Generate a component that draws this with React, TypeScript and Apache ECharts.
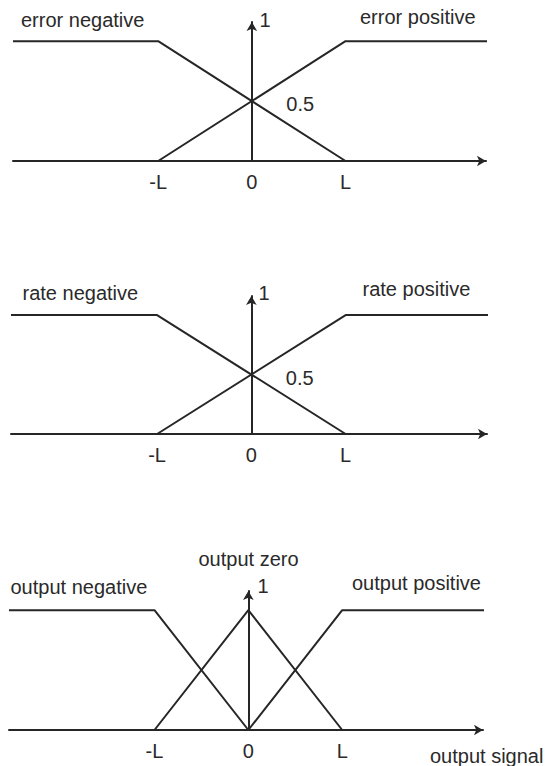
import React, { useEffect, useRef } from "react";
import * as echarts from "echarts";

// ---- data ----
const xTickValues = [-1, 0, 1];
const xTickLabels = ["-L", "0", "L"];

const errorNegative = [[-2.55, 1], [-1, 1], [1, 0]];
const errorPositive = [[-1, 0], [1, 1], [2.57, 1]];
const rateNegative = [[-2.55, 1], [-1, 1], [1, 0]];
const ratePositive = [[-1, 0], [1, 1], [2.57, 1]];
const outputNegative = [[-2.55, 1], [-1, 1], [0, 0]];
const outputZero = [[-1, 0], [0, 1], [1, 0]];
const outputPositive = [[0, 0], [1, 1], [2.57, 1]];
const crossPoint = [[0, 0.5]];
const crossLabel = "0.5";
const peakLabel = "1";

const panelSeries = [
  [
    { name: "error negative", data: errorNegative },
    { name: "error positive", data: errorPositive },
  ],
  [
    { name: "rate negative", data: rateNegative },
    { name: "rate positive", data: ratePositive },
  ],
  [
    { name: "output negative", data: outputNegative },
    { name: "output zero", data: outputZero },
    { name: "output positive", data: outputPositive },
  ],
];
const panelHasCross = [true, true, false];

// ---- layout / style ----
const LINE = "#262626";
const TEXT = "#2a2a2a";
const FONT = '"Liberation Sans", Arial, Helvetica, sans-serif';
const FS = 20;
const X_MIN = -2.55;
const X_MAX = 2.5;
const Y_MAX = 1.16;

const grids = [
  { left: 13, width: 473, top: 22, height: 139 },
  { left: 11, width: 476, top: 296, height: 138 },
  { left: 9, width: 474, top: 591, height: 139 },
];

const textItems = [
  { text: "error negative", x: 21, y: 20 },
  { text: "error positive", x: 360, y: 17 },
  { text: peakLabel, x: 259.5, y: 19.5 },
  { text: "rate negative", x: 22.5, y: 292.7 },
  { text: "rate positive", x: 362.5, y: 289.3 },
  { text: peakLabel, x: 258.5, y: 292.5 },
  { text: "output zero", x: 198.5, y: 559.3 },
  { text: "output negative", x: 10.5, y: 586.7 },
  { text: "output positive", x: 352, y: 583.3 },
  { text: peakLabel, x: 257.5, y: 586.3 },
  { text: "output signal", x: 430, y: 756 },
];

export default function App() {
  const ref = useRef<HTMLDivElement>(null);

  useEffect(() => {
    if (!ref.current) return;
    const chart = echarts.init(ref.current, null, { renderer: "svg" });

    const xAxis = grids.map((_, i) => ({
      type: "value",
      gridIndex: i,
      min: X_MIN,
      max: X_MAX,
      splitLine: { show: false },
      axisTick: { show: false },
      axisLine: {
        show: true,
        onZero: true,
        symbol: ["none", "arrow"],
        symbolSize: [8, 9],
        lineStyle: { color: LINE, width: 2 },
      },
      axisLabel: {
        show: true,
        customValues: xTickValues,
        formatter: (v: number) => {
          const k = xTickValues.indexOf(v);
          return k >= 0 ? xTickLabels[k] : "";
        },
        color: TEXT,
        fontSize: FS,
        fontFamily: FONT,
        margin: 11,
      },
    }));

    const yAxis = grids.map((_, i) => ({
      type: "value",
      gridIndex: i,
      min: 0,
      max: Y_MAX,
      splitLine: { show: false },
      axisTick: { show: false },
      axisLabel: { show: false },
      axisLine: {
        show: true,
        onZero: true,
        symbol: ["none", "arrow"],
        symbolSize: [8, 9],
        lineStyle: { color: LINE, width: 2 },
      },
    }));

    const series: any[] = [];
    panelSeries.forEach((list, i) => {
      list.forEach((s) => {
        series.push({
          type: "line",
          name: s.name,
          xAxisIndex: i,
          yAxisIndex: i,
          data: s.data,
          showSymbol: false,
          clip: false,
          silent: true,
          lineStyle: { color: LINE, width: 2 },
        });
      });
      if (panelHasCross[i]) {
        series.push({
          type: "scatter",
          xAxisIndex: i,
          yAxisIndex: i,
          data: crossPoint,
          symbolSize: 1,
          silent: true,
          itemStyle: { color: "rgba(0,0,0,0)", opacity: 1 },
          label: {
            show: true,
            formatter: crossLabel,
            position: "right",
            distance: 34,
            offset: [0, 3],
            color: TEXT,
            opacity: 1,
            fontSize: FS,
            fontFamily: FONT,
          },
        });
      }
    });

    chart.setOption({
      animation: false,
      backgroundColor: "#ffffff",
      grid: grids.map((g) => ({ ...g, containLabel: false })),
      xAxis,
      yAxis,
      series,
      graphic: textItems.map((t) => ({
        type: "text",
        silent: true,
        style: {
          text: t.text,
          x: t.x,
          y: t.y,
          fill: TEXT,
          font: `${FS}px ${FONT}`,
          align: "left",
          verticalAlign: "middle",
          textAlign: "left",
          textVerticalAlign: "middle",
        },
      })),
    });

    return () => chart.dispose();
  }, []);

  return (
    <div
      ref={ref}
      style={{ position: "absolute", left: 0, top: 0, width: 545, height: 766 }}
    />
  );
}
